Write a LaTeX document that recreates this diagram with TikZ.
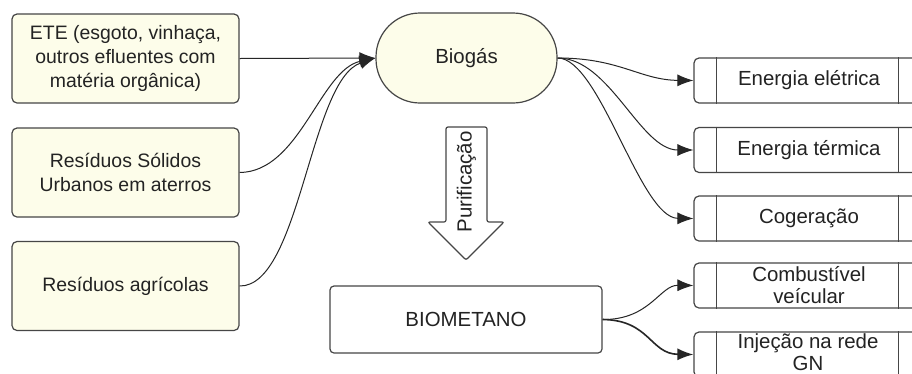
\documentclass[tikz,border=0pt]{standalone}
\usepackage{fontspec}
\setmainfont{Liberation Sans}
\usetikzlibrary{arrows.meta}
\definecolor{cream}{RGB}{253,253,234}
\definecolor{edge}{RGB}{70,70,70}
\definecolor{txt}{RGB}{35,35,35}
\begin{document}
\begin{tikzpicture}[x=1bp,y=-1bp,
  every node/.style={font=\fontsize{19.5}{24.5}\selectfont, text=txt, inner sep=0pt},
  big/.style={font=\fontsize{20.5}{22}\selectfont},
  srcbox/.style={draw=edge, line width=1.2bp, fill=cream, rounded corners=5bp, minimum width=227bp, minimum height=89bp, align=center},
  pill/.style={draw=edge, line width=1.2bp, fill=cream, rounded corners=44bp, minimum width=181bp, minimum height=90bp, big},
  procbox/.style={draw=edge, line width=1.2bp, fill=white, rounded corners=5bp, minimum width=230bp, minimum height=45bp, align=center, big},
  outbox/.style={draw=edge, line width=1.2bp, fill=white, rounded corners=4bp, minimum width=272bp, minimum height=67bp, big},
  conn/.style={draw=black!85, line width=1bp, -{Latex[length=16bp,width=12bp]}}
]
\clip (0,0) rectangle (912,373);
\fill[white] (0,0) rectangle (912,373);

% sources
\node[srcbox] (s1) at (125.5,58.5) {ETE (esgoto, vinhaça,\\outros efluentes com\\matéria orgânica)};
\node[srcbox] (s2) at (125.5,172.5) {Resíduos Sólidos\\Urbanos em aterros};
\node[srcbox] (s3) at (125.5,286) {Resíduos agrícolas};

% biogas
\node[pill] (bio) at (466.5,58) {Biogás};

% biometano
\node[outbox] (bm) at (466,319.5) {BIOMETANO};

% purification arrow
\draw[edge, line width=1.2bp, fill=white, rounded corners=2bp]
  (446,127) -- (487,127) -- (487,222) -- (504,222) -- (466,260) -- (428,222) -- (446,222) -- cycle;
\node[rotate=90, big] (pur) at (466.5,182) {Purificação};

% outputs
\foreach \n/\y/\t in {e1/80.5/{Energia elétrica}, e2/150/{Energia térmica}, e3/218.5/{Cogeração}, e4/285.5/{Combustível\\veícular}, e5/354.5/{}} {
  \node[procbox] (\n) at (809,\y) {\t};
  \draw[edge, line width=1.2bp] ([xshift=23bp]\n.north west) -- ([xshift=23bp]\n.south west);
  \draw[edge, line width=1.2bp] ([xshift=205bp]\n.north west) -- ([xshift=205bp]\n.south west);
}
\node[big, align=center] (e5t) at (808,352) {Injeção na rede\\GN};

% connectors
\draw[conn] (s1.east) -- (bio.west);
\draw[conn] (s2.east) .. controls (300,172) and (320,70) .. (bio.west);
\draw[conn] (s3.east) .. controls (300,287) and (310,80) .. (bio.west);

\draw[conn] (bio.east) .. controls (620,58) and (640,80) .. (e1.west);
\draw[conn] (bio.east) .. controls (610,58) and (640,150) .. (e2.west);
\draw[conn] (bio.east) .. controls (600,58) and (640,218) .. (e3.west);

\draw[conn] (bm.east) .. controls (650,320) and (660,285) .. (e4.west);
\draw[conn, line width=1.6bp] (bm.east) .. controls (650,320) and (650,354) .. (e5.west);
\end{tikzpicture}
\end{document}
